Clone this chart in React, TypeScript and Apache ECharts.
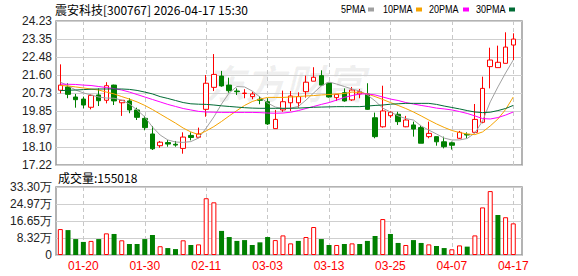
import { useEffect, useRef } from "react";
import * as echarts from "echarts";

const dates = ["01-15","01-16","01-19","01-20","01-21","01-22","01-23","01-26","01-27","01-28","01-29","01-30","02-02","02-03","02-04","02-05","02-06","02-09","02-10","02-11","02-12","02-13","02-24","02-25","02-26","02-27","03-02","03-03","03-04","03-05","03-06","03-09","03-10","03-11","03-12","03-13","03-16","03-17","03-18","03-19","03-20","03-23","03-24","03-25","03-26","03-27","03-30","03-31","04-01","04-02","04-03","04-07","04-08","04-09","04-10","04-13","04-14","04-15","04-16","04-17"];
const shownDates = ["01-20","01-30","02-11","03-03","03-13","03-25","04-07","04-17"];

const opens = [20.86,21.02,20.53,20.43,20.03,20.63,20.37,21.11,20.25,20.34,19.90,19.49,18.73,18.16,18.31,18.23,18.03,18.66,18.57,19.93,21.00,21.55,21.11,20.82,20.70,20.55,20.42,20.30,18.99,19.90,20.25,20.25,20.79,21.30,21.57,21.21,20.50,20.74,20.39,20.68,20.68,19.52,19.08,19.62,19.69,19.08,19.17,19.04,18.60,18.60,18.35,18.30,18.52,18.71,18.81,19.30,22.01,21.96,22.17,23.06];
const closes = [21.11,20.66,20.40,20.14,20.61,20.35,21.08,20.34,20.37,19.90,19.54,19.04,18.01,18.33,18.24,18.19,18.58,18.56,18.73,21.20,21.63,21.07,20.84,20.79,20.72,20.68,20.37,19.22,19.44,20.30,20.58,20.55,21.25,21.49,21.11,20.53,20.66,20.34,20.87,20.79,19.93,18.60,19.85,19.79,19.33,19.41,18.97,18.28,18.76,18.35,18.11,18.18,18.81,18.68,19.44,20.95,22.33,22.22,22.96,23.35];
const lows = [20.71,20.47,20.01,19.98,19.93,20.09,20.22,20.14,19.61,19.74,19.41,18.91,17.95,18.06,18.11,18.11,17.77,18.42,18.52,19.57,20.82,21.03,20.74,20.63,20.47,20.42,20.18,19.17,18.99,19.81,19.85,20.01,20.50,21.30,21.08,20.50,20.34,20.30,20.34,20.47,19.90,18.52,19.04,19.52,19.17,19.06,18.60,18.28,18.52,18.16,18.03,17.97,18.49,18.52,18.76,19.25,20.95,21.96,22.17,22.33];
const highs = [22.12,21.20,20.68,20.55,20.66,20.95,21.25,21.13,20.38,20.47,20.01,19.61,19.12,18.39,18.44,18.39,18.81,18.81,19.04,21.60,22.62,21.80,21.47,20.95,20.91,20.79,20.58,20.47,19.90,20.84,20.82,20.76,21.57,21.98,21.83,21.21,20.66,20.95,21.02,20.92,21.20,19.77,21.08,19.85,19.81,19.61,19.33,19.17,19.33,18.60,18.60,18.36,18.88,18.81,20.19,21.52,22.93,23.03,23.68,23.63];

const ma5 = [21.26,21.07,20.87,20.73,20.63,20.53,20.48,20.47,20.38,20.19,19.90,19.56,19.07,18.68,18.44,18.34,18.32,18.36,18.53,19.02,19.56,20.19,20.73,21.04,21.02,20.82,20.53,20.24,20.04,19.97,19.99,20.07,20.38,20.73,21.07,21.26,21.16,21.04,20.92,20.82,20.63,20.34,19.99,19.80,19.61,19.48,19.41,19.12,18.92,18.73,18.53,18.44,18.44,18.51,18.78,19.36,20.29,21.02,21.70,22.33];
const ma10 = [21.09,21.07,21.02,20.97,20.92,20.87,20.77,20.68,20.55,20.43,20.29,20.12,19.92,19.70,19.48,19.26,19.02,18.83,18.70,18.88,19.09,19.34,19.61,19.87,20.12,20.31,20.43,20.51,20.51,20.51,20.53,20.55,20.58,20.60,20.63,20.65,20.68,20.70,20.77,20.75,20.68,20.55,20.41,20.26,20.12,19.97,19.80,19.61,19.41,19.22,19.05,18.90,18.80,18.73,18.70,18.83,19.12,19.46,19.92,20.53];
const ma20 = [21.16,21.15,21.14,21.11,21.09,21.04,20.99,20.94,20.87,20.77,20.65,20.53,20.41,20.29,20.17,20.07,19.97,19.90,19.83,19.80,19.79,19.78,19.78,19.78,19.78,19.78,19.77,19.75,19.74,19.75,19.79,19.87,19.97,20.07,20.17,20.26,20.38,20.51,20.60,20.68,20.68,20.63,20.53,20.43,20.36,20.26,20.19,20.12,20.06,19.99,19.95,19.90,19.82,19.73,19.61,19.48,19.46,19.53,19.65,19.80];
const ma30 = [20.84,20.86,20.87,20.89,20.91,20.92,20.92,20.92,20.92,20.90,20.85,20.77,20.68,20.55,20.46,20.36,20.26,20.20,20.18,20.17,20.14,20.10,20.07,20.04,20.01,19.99,19.98,19.98,19.98,19.98,19.98,19.99,20.01,20.03,20.04,20.05,20.06,20.06,20.06,20.06,20.09,20.12,20.14,20.18,20.20,20.22,20.22,20.22,20.22,20.17,20.09,20.02,19.95,19.87,19.80,19.77,19.79,19.87,19.97,20.12];

const volumes = [127000,122000,78000,64000,69000,78000,106000,103000,72000,54000,54000,78000,98000,43000,34000,29000,72000,49000,52000,278000,258000,118000,88000,69000,73000,49000,62000,88000,73000,96000,57000,69000,88000,137000,78000,49000,49000,54000,57000,54000,69000,93000,176000,103000,59000,49000,73000,59000,52000,44000,34000,28000,47000,41000,96000,233000,313000,196000,185000,155018];

const priceTicks = ["17.22","18.10","18.97","19.85","20.73","21.60","22.48","23.35","24.23"];
const volTicks = ["0","8.32万","16.65万","24.97万","33.30万"];
const priceMin = 17.22;
const priceMax = 24.23;
const volMax = 333000;

const maNames = ["5PMA","10PMA","20PMA","30PMA"];
const maColors = ["#a0a0a0","#f5a300","#ff00ff","#006b35"];
const maSeries = [ma5, ma10, ma20, ma30];

const title = "震安科技[300767] 2026-04-17 15:30";
const volTitle = "成交量:155018";

export default function App() {
  const ref = useRef<HTMLDivElement>(null);
  useEffect(() => {
    const chart = echarts.init(ref.current!, null, { renderer: "svg" });
    const gridLine = { show: true, lineStyle: { color: "#cfcfcf", width: 1 } };
    const dashLine = {
      show: true,
      alignWithLabel: true,
      interval: (_i: number, v: string) => shownDates.includes(v),
      lineStyle: { color: "#c8c8c8", type: [4, 3], width: 1 },
    };
    const labelFont = { fontSize: 12, fontFamily: "Liberation Sans, Arial, sans-serif" };
    const volData = volumes.map((v, i) => {
      const up = i === 0 ? closes[i] >= opens[i] : closes[i] > closes[i - 1];
      return {
        value: v,
        itemStyle: up
          ? { color: "#ffffff", borderColor: "#ff0000", borderWidth: 1 }
          : { color: "#008000", borderColor: "#008000", borderWidth: 0 },
      };
    });
    const legendX = [341, 383, 429, 476];
    const legendBoxX = [368, 416, 463, 509];
    const graphics: any[] = [
      {
        type: "text", x: 205, y: 82, z: 0, silent: true,
        style: { text: "东方财富", fontSize: 40, fontStyle: "italic", fontWeight: "bold", fontFamily: "Noto Sans CJK SC", fill: "rgba(0,0,0,0.06)", verticalAlign: "middle" },
      },
      {
        type: "text", x: 55, y: 9.5,
        style: { text: title, fontSize: 12, fontFamily: "Noto Sans CJK SC, sans-serif", fill: "#000", verticalAlign: "middle" },
      },
      {
        type: "text", x: 58, y: 177.5,
        style: { text: volTitle, fontSize: 12, fontFamily: "Noto Sans CJK SC, sans-serif", fill: "#000", verticalAlign: "middle" },
      },
    ];
    maNames.forEach((n, k) => {
      graphics.push({
        type: "text", x: legendX[k], y: 9.5, scaleX: 0.82,
        style: { text: n, fontSize: 11, fontFamily: "Liberation Sans, Arial, sans-serif", fill: "#000", verticalAlign: "middle" },
      });
      graphics.push({
        type: "rect", shape: { x: legendBoxX[k], y: 7.5, width: 6, height: 4 },
        style: { fill: maColors[k] },
      });
    });

    const option: any = {
      animation: false,
      backgroundColor: "#ffffff",
      grid: [
        { left: 56, top: 21, width: 466, height: 144, show: true, borderColor: "#9a9a9a", borderWidth: 1.5, backgroundColor: "transparent" },
        { left: 56.5, top: 21, width: 460.6, height: 144 },
        { left: 56, top: 187, width: 466, height: 68, show: true, borderColor: "#9a9a9a", borderWidth: 1.5, backgroundColor: "transparent" },
        { left: 56.5, top: 187, width: 460.6, height: 68 },
      ],
      xAxis: [
        { type: "value", gridIndex: 0, min: 0, max: 1, show: false },
        {
          type: "category", gridIndex: 1, data: dates, boundaryGap: true,
          axisLine: { show: false }, axisTick: { show: false }, axisLabel: { show: false },
          splitLine: dashLine,
        },
        { type: "value", gridIndex: 2, min: 0, max: 1, show: false },
        {
          type: "category", gridIndex: 3, data: dates, boundaryGap: true,
          axisLine: { show: false }, axisTick: { show: false },
          axisLabel: { show: true, interval: (_i: number, v: string) => shownDates.includes(v), color: "#ff0000", margin: 5, ...labelFont },
          splitLine: dashLine,
        },
      ],
      yAxis: [
        {
          type: "value", gridIndex: 0, min: 0, max: priceTicks.length - 1, interval: 1,
          axisLine: { show: false }, axisTick: { show: false },
          axisLabel: { color: "#222", margin: 4, formatter: (v: number) => priceTicks[Math.round(v)], ...labelFont },
          splitLine: gridLine,
        },
        { type: "value", gridIndex: 1, min: priceMin, max: priceMax, show: false, splitLine: { show: false } },
        {
          type: "value", gridIndex: 2, min: 0, max: volTicks.length - 1, interval: 1,
          axisLine: { show: false }, axisTick: { show: false },
          axisLabel: { color: "#222", margin: 4, formatter: (v: number) => volTicks[Math.round(v)], ...labelFont },
          splitLine: gridLine,
        },
        { type: "value", gridIndex: 3, min: 0, max: volMax, show: false, splitLine: { show: false } },
      ],
      graphic: graphics,
      series: [
        {
          type: "candlestick", name: "K", xAxisIndex: 1, yAxisIndex: 1, barWidth: 5, z: 3,
          data: dates.map((_, i) => [opens[i], closes[i], lows[i], highs[i]]),
          itemStyle: {
            color: "#ffffff", color0: "#008000", borderColor: "#ff0000", borderColor0: "#008000",
            borderColorDoji: "#ff0000", borderWidth: 1,
          },
        },
        ...maSeries.map((d, k) => ({
          type: "line", name: maNames[k], xAxisIndex: 1, yAxisIndex: 1, data: d,
          symbol: "none", showSymbol: false, smooth: false, z: 4,
          lineStyle: { color: maColors[k], width: 1 },
        })),
        {
          type: "bar", name: "成交量", xAxisIndex: 3, yAxisIndex: 3, barWidth: 5, data: volData,
        },
      ],
    };
    chart.setOption(option);
    return () => chart.dispose();
  }, []);
  return <div ref={ref} style={{ position: "fixed", left: 0, top: 0, width: 578, height: 276 }} />;
}
